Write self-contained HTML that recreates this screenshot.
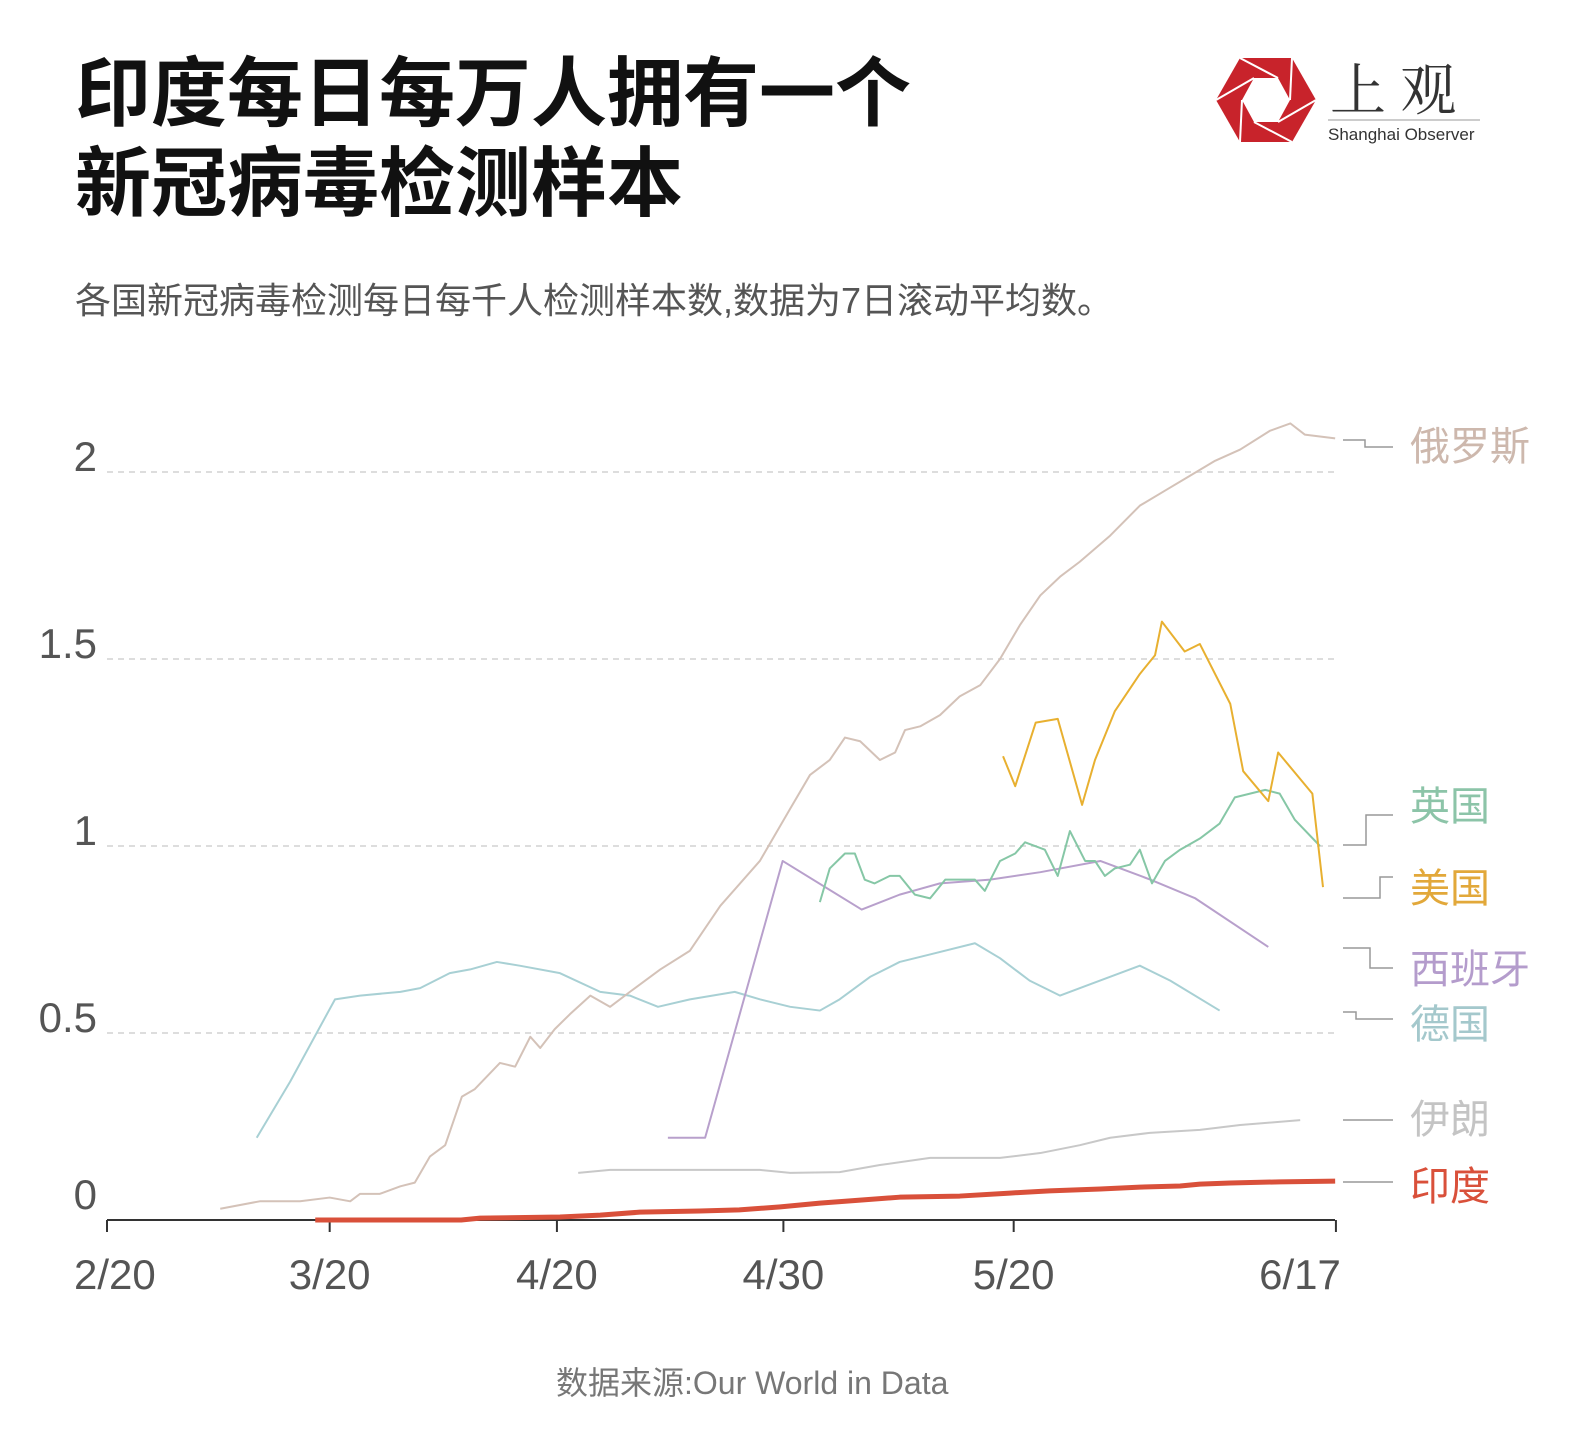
<!DOCTYPE html>
<html><head><meta charset="utf-8">
<style>
body{margin:0;background:#fff;}
#wrap{position:relative;width:1581px;height:1449px;overflow:hidden;font-family:"Liberation Sans","Noto Sans CJK SC",sans-serif;}
.t{position:absolute;white-space:nowrap;}
</style></head>
<body>
<div id="wrap">
<div class="t" style="left:75px;top:50px;font-size:76px;font-weight:bold;line-height:90px;color:#111;">印度每日每万人拥有一个<br>新冠病毒检测样本</div>
<div class="t" style="left:75px;top:272px;font-size:36px;color:#555;">各国新冠病毒检测每日每千人检测样本数,数据为7日滚动平均数。</div>
<div class="t" style="left:556px;top:1358px;font-size:32px;color:#777;">数据来源:Our World in Data</div>
<svg style="position:absolute;left:1210px;top:50px" width="290" height="100">
<polygon points="30,8 82,8 106,50 82,92 30,92 6,50" fill="#c8232b"/>
<polygon points="44,28 68,28 80,50 68,72 44,72 32,50" fill="#fff"/>
<g stroke="#fff" stroke-width="2"><line x1="30" y1="8" x2="68" y2="28"/><line x1="82" y1="8" x2="80" y2="50"/><line x1="106" y1="50" x2="68" y2="72"/><line x1="82" y1="92" x2="44" y2="72"/><line x1="30" y1="92" x2="32" y2="50"/><line x1="6" y1="50" x2="44" y2="28"/></g>
<text x="120" y="60" font-size="56" fill="#333" font-family="Noto Serif CJK SC,serif">上 观</text>
<line x1="118" y1="70" x2="270" y2="70" stroke="#999" stroke-width="1"/>
<text x="118" y="90" font-size="17" fill="#333" font-family="Liberation Sans,sans-serif">Shanghai Observer</text>
</svg>
<svg id="chart" style="position:absolute;left:0;top:0" width="1581" height="1449"></svg>
</div>
<script>
const tickDays=[0,29.3,59.2,89,119.3,161.7];
const tickLabels=["2/20","3/20","4/20","4/30","5/20","6/17"];
const yTicks=[0.5,1,1.5,2];
const yTickLabels=["0.5","1","1.5","2"];
const russiaDays=[14.9,20.1,25.4,29.3,32,33.3,35.9,38.6,40.5,42.5,44.5,46.7,48.4,51.7,53.7,55.7,57,58.9,60.9,63.6,66.2,68.8,72.8,76.7,80.7,85.9,89.9,92.5,95.1,97.1,99.1,101.7,103.7,105,107,109.6,112.2,114.9,117.5,120.1,122.8,125.4,128,132,135.9,139.2,142.5,145.8,149.1,153,155.7,157.6,161.6];
const russiaVals=[.03,.05,.05,.06,.05,.07,.07,.09,.10,.17,.2,.33,.35,.42,.41,.49,.46,.51,.55,.6,.57,.61,.67,.72,.84,.96,1.10,1.19,1.23,1.29,1.28,1.23,1.25,1.31,1.32,1.35,1.40,1.43,1.50,1.59,1.67,1.72,1.76,1.83,1.91,1.95,1.99,2.03,2.06,2.11,2.13,2.10,2.09];
const germanyDays=[19.7,24.1,30,33.3,38.6,41.2,45.1,47.8,51.3,54.3,59.6,64.9,68.8,72.5,76.7,82.6,85.9,89.9,93.8,96.4,100.4,104.3,108.3,114.2,117.5,121.4,125.4,129.3,135.9,139.9,146.4];
const germanyVals=[.22,.37,.59,.60,.61,.62,.66,.67,.69,.68,.66,.61,.60,.57,.59,.61,.59,.57,.56,.59,.65,.69,.71,.74,.70,.64,.60,.63,.68,.64,.56];
const spainDays=[73.8,78.7,88.9,99.3,104.3,109.6,116.2,122.8,130.7,137.3,143.2,152.8];
const spainVals=[.22,.22,.96,.83,.87,.90,.91,.93,.96,.91,.86,.73];
const ukDays=[93.8,95.1,97.1,98.4,99.7,101,103,104.3,106.3,108.3,110.3,112.2,114.2,115.5,117.5,119.5,120.8,123.4,125.1,126.7,128.7,130,131.3,132.6,134.6,135.9,137.5,139.2,141.2,143.8,146.4,148.4,150.4,152.4,154.3,156.3,159.6];
const ukVals=[.85,.94,.98,.98,.91,.90,.92,.92,.87,.86,.91,.91,.91,.88,.96,.98,1.01,.99,.92,1.04,.96,.96,.92,.94,.95,.99,.90,.96,.99,1.02,1.06,1.13,1.14,1.15,1.14,1.07,1.0];
const usaDays=[117.9,119.5,122.2,125.1,128.3,130,132.6,135.9,137.9,138.8,141.8,143.8,147.8,149.5,152.8,154.1,158.6,160];
const usaVals=[1.24,1.16,1.33,1.34,1.11,1.23,1.36,1.46,1.51,1.60,1.52,1.54,1.38,1.20,1.12,1.25,1.14,.89];
const iranDays=[62,66.2,71.4,78,85.9,89.9,96.4,101.7,108.3,117.5,122.8,128,132,137.2,143.8,149.1,157];
const iranVals=[.126,.134,.134,.134,.134,.126,.128,.147,.166,.166,.179,.20,.22,.233,.241,.254,.267];
const indiaDays=[27.4,46.6,49.1,59.6,64.9,70.1,78,83.2,88.6,93.8,99.1,104.3,112.2,118.8,124,130.7,135.9,141.2,143.8,147.8,154.3,161.6];
const indiaVals=[0,0,.005,.008,.013,.021,.024,.027,.035,.045,.053,.061,.064,.072,.078,.083,.088,.091,.096,.099,.102,.104];

const X=d=>107+d*7.6;
const Y=v=>1220-v*374;
const svg=document.getElementById('chart');
const NS='http://www.w3.org/2000/svg';
function mk(tag,attrs){const e=document.createElementNS(NS,tag);for(const k in attrs)e.setAttribute(k,attrs[k]);svg.appendChild(e);return e;}

yTicks.forEach((v,i)=>{
  const g=mk('line',{x1:107,x2:1335,y1:Y(v),y2:Y(v),stroke:'#ddd','stroke-width':2,'stroke-dasharray':'6,5'});
  
  
  const t=mk('text',{x:97,y:Y(v)-1,'text-anchor':'end','font-size':42,fill:'#555','font-family':'Liberation Sans,sans-serif'});
  t.textContent=yTickLabels[i];
  
  
});
const z=mk('text',{x:97,y:1209,'text-anchor':'end','font-size':42,fill:'#555','font-family':'Liberation Sans,sans-serif'});z.textContent='0';


const ax=mk('line',{x1:107,x2:1335,y1:1220,y2:1220,stroke:'#333','stroke-width':2});


tickDays.forEach((d,i)=>{
  const tk=mk('line',{x1:X(d),x2:X(d),y1:1220,y2:1232,stroke:'#333','stroke-width':2});
  
  
  const anchor=i==0?'start':(i==tickDays.length-1?'end':'middle');
  const t=mk('text',{x:i==0?74:(i==tickDays.length-1?X(d)+5:X(d)),y:1289,'text-anchor':anchor,'font-size':42,fill:'#555','font-family':'Liberation Sans,sans-serif'});
  t.textContent=tickLabels[i];
  
  
});
function line(days,vals,color,w,name){
  const p=mk('polyline',{points:days.map((d,i)=>X(d)+','+Y(vals[i])).join(' '),fill:'none',stroke:color,'stroke-width':w,'stroke-linejoin':'round'});
  
  
}
line(germanyDays,germanyVals,'#a8d0d4',2,'line-germany');
line(iranDays,iranVals,'#c8c8c8',2,'line-iran');
line(russiaDays,russiaVals,'#d4c2b8',2,'line-russia');
line(spainDays,spainVals,'#b8a0cc',2,'line-spain');
line(ukDays,ukVals,'#86c7a6',2,'line-uk');
line(usaDays,usaVals,'#e8b030',2,'line-usa');
line(indiaDays,indiaVals,'#d9503a',5,'line-india');

const legNames=['俄罗斯','英国','美国','西班牙','德国','伊朗','印度'];
const legColors=['#cdb8ad','#8cc4a8','#e2a83a','#b49ccc','#a4c8cc','#c4c4c4','#d9503a'];
const legY=[460,820,902,983,1038,1133,1200];
const conn=['1343,440 1365,440 1365,447 1393,447','1343,845 1366,845 1366,815 1393,815','1343,898 1380,898 1380,877 1393,877','1343,948 1370,948 1370,968 1393,968','1343,1012 1356,1012 1356,1019 1393,1019','1343,1120 1393,1120','1343,1182 1393,1182'];
legNames.forEach((n,i)=>{
  const c=mk('polyline',{points:conn[i],fill:'none',stroke:'#999','stroke-width':1.5});
  
  
  const t=mk('text',{x:1410,y:legY[i],'font-size':40,fill:legColors[i],'font-family':'Noto Sans CJK SC,sans-serif'});
  t.textContent=n;
  
  
});
</script>
</body></html>
